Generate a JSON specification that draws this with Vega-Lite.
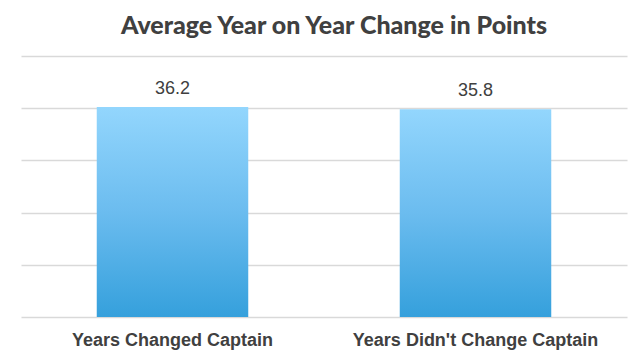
{
  "$schema": "https://vega.github.io/schema/vega-lite/v6.json",
  "width": 606,
  "height": 261,
  "autosize": "none",
  "padding": {"left": 21, "top": 56, "right": 4, "bottom": 37},
  "background": "white",
  "title": {
    "text": "Average Year on Year Change in Points",
    "font": "Lato",
    "fontSize": 25,
    "fontWeight": 900,
    "color": "#404040",
    "anchor": "middle",
    "frame": "group",
    "dx": 10,
    "offset": 17
  },
  "data": {
    "values": [
      {"category": "Years Changed Captain", "value": 36.2},
      {"category": "Years Didn't Change Captain", "value": 35.8}
    ]
  },
  "encoding": {
    "x": {
      "field": "category",
      "type": "nominal",
      "sort": null,
      "scale": {"paddingInner": 0.5, "paddingOuter": 0.25},
      "axis": {
        "title": null,
        "labelAngle": 0,
        "labelFont": "Liberation Sans",
        "labelFontSize": 18,
        "labelFontWeight": "bold",
        "labelColor": "#404040",
        "labelPadding": 14,
        "labelLimit": 0,
        "ticks": false,
        "domain": false
      }
    },
    "y": {
      "field": "value",
      "type": "quantitative",
      "scale": {"domain": [0, 45], "nice": false},
      "axis": {
        "title": null,
        "labels": false,
        "ticks": false,
        "domain": false,
        "values": [0, 9, 18, 27, 36, 45],
        "grid": true,
        "gridColor": "#d9d9d9",
        "gridWidth": 1.5
      }
    }
  },
  "layer": [
    {
      "mark": {
        "type": "bar",
        "color": {
          "gradient": "linear",
          "x1": 0, "y1": 0, "x2": 0, "y2": 1,
          "stops": [
            {"offset": 0, "color": "#93d6fd"},
            {"offset": 0.5, "color": "#6bbcef"},
            {"offset": 1, "color": "#35a0dc"}
          ]
        }
      }
    },
    {
      "mark": {
        "type": "text",
        "font": "Liberation Sans",
        "fontSize": 18,
        "color": "#404040",
        "baseline": "alphabetic",
        "dy": -13
      },
      "encoding": {
        "text": {"field": "value", "type": "quantitative", "format": ".1f"}
      }
    }
  ],
  "config": {"view": {"stroke": null}}
}
